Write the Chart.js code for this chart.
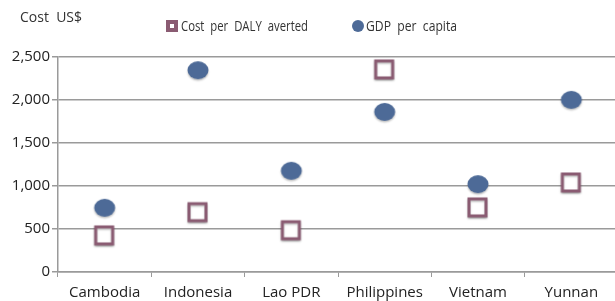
<!DOCTYPE html>
<html>
<head>
<meta charset="utf-8">
<script src="https://cdn.jsdelivr.net/npm/chart.js@4"></script>
<style>
  html, body { margin: 0; padding: 0; background: #fff; }
  #wrap { position: relative; width: 615px; height: 301px; overflow: hidden; }
</style>
</head>
<body>
<div id="wrap"><canvas id="myChart" width="622" height="301"></canvas></div>
<script>
const countries = ['Cambodia', 'Indonesia', 'Lao PDR', 'Philippines', 'Vietnam', 'Yunnan'];
const costPerDaly = [420, 690, 480, 2350, 745, 1035];
const gdpPerCapita = [735, 2335, 1165, 1850, 1010, 1990];
const yTicks = [0, 500, 1000, 1500, 2000, 2500];

const blue = '#4d6a97';
const mauve = '#8a5b72';

// ellipse marker for GDP, with a soft shadow like the original
function makeDot() {
  const c = document.createElement('canvas');
  c.width = 26; c.height = 24;
  const ctx = c.getContext('2d');
  ctx.shadowColor = 'rgba(0,0,0,0.25)';
  ctx.shadowBlur = 2;
  ctx.shadowOffsetY = 1.5;
  ctx.fillStyle = blue;
  ctx.beginPath();
  ctx.ellipse(13, 11, 10.5, 9, 0, 0, Math.PI * 2);
  ctx.fill();
  return c;
}

function makeBox() {
  const c = document.createElement('canvas');
  c.width = 26; c.height = 26;
  const ctx = c.getContext('2d');
  ctx.shadowColor = 'rgba(0,0,0,0.25)';
  ctx.shadowBlur = 2;
  ctx.shadowOffsetY = 1.5;
  ctx.fillStyle = '#fff';
  ctx.strokeStyle = mauve;
  ctx.lineWidth = 3;
  ctx.beginPath();
  ctx.rect(4, 4, 17, 17);
  ctx.fill();
  ctx.stroke();
  return c;
}

const topLabels = {
  id: 'topLabels',
  afterDraw(chart) {
    const ctx = chart.ctx;
    ctx.save();
    ctx.font = '14px "Open Sans"';
    ctx.fillStyle = '#333';
    ctx.textBaseline = 'middle';
    ctx.fillText('Cost  US$', 20, 18, 62);
    // legend: cost per DALY
    ctx.fillStyle = mauve;
    ctx.fillRect(166, 20, 12, 12);
    ctx.fillStyle = '#fff';
    ctx.fillRect(170, 24, 4, 4);
    ctx.fillStyle = '#333';
    ctx.fillText('Cost  per  DALY  averted', 181, 27, 127);
    // legend: GDP per capita
    ctx.fillStyle = blue;
    ctx.beginPath();
    ctx.arc(358, 26, 6, 0, Math.PI * 2);
    ctx.fill();
    ctx.fillStyle = '#333';
    ctx.fillText('GDP  per  capita', 366, 27, 91);
    ctx.restore();
  }
};

new Chart(document.getElementById('myChart'), {
  type: 'line',
  data: {
    labels: countries,
    datasets: [
      {
        label: 'GDP per capita',
        data: gdpPerCapita,
        showLine: false,
        pointStyle: makeDot(),
        pointRadius: 1,
        pointBorderWidth: 0
      },
      {
        label: 'Cost per DALY averted',
        data: costPerDaly,
        showLine: false,
        pointStyle: makeBox(),
        pointRadius: 1,
        pointBorderWidth: 0
      }
    ]
  },
  options: {
    responsive: false,
    animation: false,
    layout: { padding: { top: 57, right: 0, bottom: 0, left: 0 } },
    plugins: {
      legend: { display: false },
      tooltip: { enabled: false }
    },
    scales: {
      x: {
        offset: true,
        afterFit(scale) { scale.height = 29; },
        border: { color: '#9a9a9a', width: 1.5 },
        grid: { drawOnChartArea: false, color: '#9a9a9a', tickLength: 5, offset: true },
        ticks: { color: '#222', font: { family: 'Open Sans', size: 15 }, padding: 7 }
      },
      y: {
        min: 0,
        max: 2500,
        afterBuildTicks(scale) { scale.ticks = yTicks.map(v => ({ value: v })); },
        afterFit(scale) { scale.width = 58; },
        border: { color: '#9a9a9a', width: 1.5 },
        grid: { color: '#9a9a9a', lineWidth: 1.5, tickLength: 6 },
        ticks: {
          color: '#222',
          font: { family: 'Open Sans', size: 15 },
          padding: 2,
          callback: v => v.toLocaleString('en-US')
        }
      }
    }
  },
  plugins: [topLabels]
});
</script>
</body>
</html>
